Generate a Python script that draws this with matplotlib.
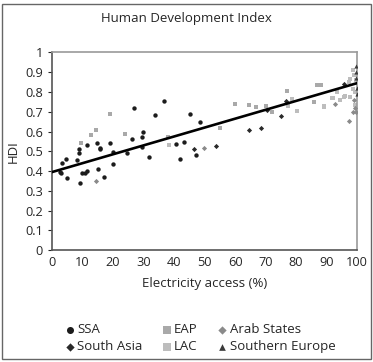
import numpy as np
import matplotlib
matplotlib.use("Agg")
import matplotlib.pyplot as plt
from matplotlib.patches import Rectangle

plt.rcParams["font.family"] = ["Open Sans", "DejaVu Sans"]

# data (electricity access %, HDI)
ssa_x = [2.6, 3.0, 3.2, 4.7, 4.9, 8.2, 8.9, 8.9, 9.2, 9.8, 10.8, 11.4, 11.5, 14.9, 15.2,
         15.8, 15.8, 17.1, 18.9, 19.9, 20.1, 24.7, 26.1, 27.0, 29.5, 29.6, 29.9, 31.9,
         33.9, 36.7, 40.8, 41.9, 43.4, 45.3, 47.2, 48.5]
ssa_y = [0.395, 0.39, 0.44, 0.46, 0.365, 0.456, 0.51, 0.49, 0.34, 0.389, 0.389, 0.53, 0.399,
         0.54, 0.412, 0.515, 0.513, 0.37, 0.54, 0.495, 0.434, 0.493, 0.56, 0.717, 0.522, 0.57,
         0.60, 0.471, 0.683, 0.754, 0.539, 0.463, 0.549, 0.69, 0.483, 0.65]

sa_x = [46.7, 53.9, 64.6, 68.4, 70.4, 75.0, 76.7, 95.8]
sa_y = [0.51, 0.525, 0.61, 0.618, 0.707, 0.68, 0.756, 0.84]

eap_x = [9.6, 12.8, 14.3, 18.9, 23.8, 37.9, 55.1, 59.9, 64.5, 66.9, 70.2, 72.0, 77.0,
         86.0, 86.8, 88.2]
eap_y = [0.542, 0.584, 0.61, 0.69, 0.59, 0.57, 0.618, 0.739, 0.734, 0.725, 0.727, 0.697,
         0.805, 0.747, 0.838, 0.838]

lac_x = [38.3, 77.4, 78.7, 80.4, 89.0, 89.1, 91.9, 92.0, 93.3, 94.3, 95.8, 96.1, 97.3,
         97.7, 97.7, 98.8, 98.8, 99.1, 99.4, 99.4, 99.7]
lac_y = [0.53, 0.727, 0.766, 0.702, 0.727, 0.724, 0.768, 0.77, 0.80, 0.758, 0.774, 0.78,
         0.85, 0.867, 0.775, 0.817, 0.909, 0.884, 0.80, 0.732, 0.86]

arab_x = [14.3, 49.7, 92.8, 97.2, 98.5, 99.0, 99.7, 99.4]
arab_y = [0.35, 0.519, 0.74, 0.652, 0.70, 0.76, 0.698, 0.72]

seu_x = [99.7, 99.7, 99.5, 100.0, 100.0]
seu_y = [0.934, 0.90, 0.87, 0.82, 0.79]

# trend line (intercept, slope)
trend_b, trend_m = 0.395, 0.0045

TXT = "#262626"

fig = plt.figure(figsize=(3.73, 3.62), dpi=100)
ax = fig.add_axes([0.1394, 0.309, 0.818, 0.546])

ax.scatter(eap_x, eap_y, marker="s", s=12, color="#a9a9a9", linewidths=0, label="EAP", zorder=2)
ax.scatter(lac_x, lac_y, marker="s", s=12, color="#bdbdbd", linewidths=0, label="LAC", zorder=2)
ax.scatter(arab_x, arab_y, marker="D", s=7, color="#8a8a8a", linewidths=0, label="Arab States", zorder=3)
ax.scatter(ssa_x, ssa_y, marker="o", s=10, color="#1c1c1c", linewidths=0, label="SSA", zorder=3)
ax.scatter(sa_x, sa_y, marker="D", s=7, color="#2a2a2a", linewidths=0, label="South Asia", zorder=3)
ax.scatter(seu_x, seu_y, marker="^", s=9, color="#3a3a3a", linewidths=0, label="Southern Europe", zorder=3)

xs = np.array([0, 100])
ax.plot(xs, trend_b + trend_m * xs, color="black", lw=1.9, zorder=4)

ax.set_xlim(0, 100)
ax.set_ylim(0, 1)
ax.set_xticks(np.arange(0, 101, 10))
ax.set_yticks(np.arange(0, 1.01, 0.1))
ax.set_yticklabels(["0", "0.1", "0.2", "0.3", "0.4", "0.5", "0.6", "0.7", "0.8", "0.9", "1"])
ax.tick_params(labelsize=9.2, colors=TXT, length=3, width=0.8)
ax.tick_params(axis="x", length=0, pad=4)
for s in ["left", "bottom"]:
    ax.spines[s].set_color("#555555")
    ax.spines[s].set_linewidth(1.2)
for s in ["top", "right"]:
    ax.spines[s].set_color("#9a9a9a")
    ax.spines[s].set_linewidth(1.2)

ax.set_xlabel("Electricity access (%)", fontsize=9.5, color=TXT, labelpad=6)
ax.set_ylabel("HDI", fontsize=9.5, color=TXT, labelpad=4)
fig.text(0.5, 0.948, "Human Development Index", ha="center", va="center", fontsize=9.5, color=TXT)

h, l = ax.get_legend_handles_labels()
order = ["SSA", "South Asia", "EAP", "LAC", "Arab States", "Southern Europe"]
hd = dict(zip(l, h))
fig.legend([hd[k] for k in order], order, ncol=3, frameon=False, fontsize=9.5,
           loc="center left", bbox_to_anchor=(0.138, 0.066), handletextpad=0.05,
           columnspacing=1.35, labelspacing=0.3, markerscale=1.6, handlelength=1.0,
           labelcolor=TXT)

fig.patches.append(Rectangle((0.006, 0.008), 0.988, 0.982, transform=fig.transFigure,
                             fill=False, edgecolor="#666666", lw=1.0))

fig.savefig("out.png", dpi=100)
